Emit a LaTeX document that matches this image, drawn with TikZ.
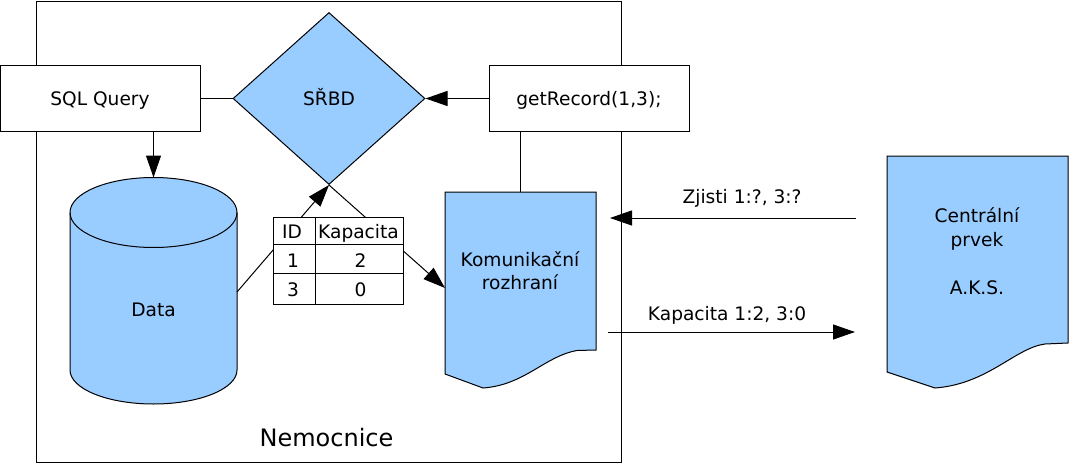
\documentclass[tikz,border=0pt]{standalone}
\usepackage{fontspec}
\setmainfont{DejaVu Sans}
\usetikzlibrary{shapes.geometric,arrows.meta}
\definecolor{lblue}{HTML}{99CCFF}
\begin{document}
\begin{tikzpicture}[x=1pt,y=-1pt,
  every node/.style={font=\fontsize{18.6}{24}\selectfont},
  box/.style={draw, fill=white, line width=1pt, minimum width=200pt, minimum height=66pt, inner sep=0pt, text height=14pt, text depth=0pt},
  conn/.style={line width=1pt},
  tip/.style={-{Triangle[length=22pt,width=15pt]}},
  txt/.style={anchor=base, inner sep=0pt},
  outline/.style={draw, line width=1pt, fill=lblue}]
\useasboundingbox (0,0) rectangle (1069,463);
% frame
\node[draw, line width=1pt, minimum width=585.5pt, minimum height=461.5pt, inner sep=0pt, anchor=north west] (frame) at (35.5,0.5) {};
\node[txt, font=\fontsize{24}{28}\selectfont] (nem) at (326.5,446) {Nemocnice};
% cylinder
\path[outline] (70,212.5) -- (70,370) arc[start angle=180, end angle=360, x radius=83.5pt, y radius=34pt]
  -- (237,212.5) arc[start angle=0, end angle=180, x radius=83.5pt, y radius=35pt] -- cycle;
\draw[line width=1pt] (70,212.5) arc[start angle=180, end angle=360, x radius=83.5pt, y radius=35pt];
\coordinate (datatop) at (153.5,177.5);
\coordinate (dataright) at (237,292);
\node[txt] (data) at (153.5,316) {Data};
% diamond
\node[diamond, draw, fill=lblue, line width=1pt, minimum width=192pt, minimum height=172pt, inner sep=0pt, text height=14pt, text depth=0pt] (srbd) at (329,98.5) {SŘBD};
% Komunikacni rozhrani
\path[outline] (445,192) -- (596,192) -- (596,350) -- (577,350.5) .. controls (545,356) and (525,385) .. (483,388) -- (445,374) -- cycle;
\coordinate (komtop) at (520,192);
\coordinate (komleft) at (445,288);
\node[txt] (kom1) at (520,266) {Komunikační};
\node[txt] (kom2) at (520,289) {rozhraní};
% Centralni prvek
\path[outline] (887,156) -- (1068,156) -- (1068,343) -- (1045,344) .. controls (1015,348) and (988,384) .. (935,388) -- (887,372) -- cycle;
\node[txt] (cen1) at (977,222) {Centrální};
\node[txt] (cen2) at (977,246) {prvek};
\node[txt] (cen3) at (977,294) {A.K.S.};
\coordinate (cenin) at (856,218);
\coordinate (cenout) at (855,332);
\coordinate (kin) at (610,218);
\coordinate (kout) at (608,332);
% boxes
\node[box] (sql) at (100,98.5) {SQL Query};
\node[box] (get) at (589,98.5) {getRecord(1,3);};
% connectors
\draw[conn] (sql.east) -- (srbd.west);
\draw[conn,tip] (get.west) -- (srbd.east);
\draw[conn,tip] (datatop |- sql.south) -- (datatop);
\draw[conn] (komtop |- get.south) -- (komtop);
\draw[conn,tip] (dataright) -- (srbd.south);
\draw[conn,tip] (srbd.south) -- (komleft);
\draw[conn,tip] (cenin) -- node[pos=0.463, anchor=base, yshift=15pt, inner sep=0pt] (lz) {Zjisti 1:?, 3:?} (kin);
\draw[conn,tip] (kout) -- node[pos=0.482, anchor=base, yshift=12pt, inner sep=0pt] (lk) {Kapacita 1:2, 3:0} (cenout);
% table
\node[draw, fill=white, line width=1pt, minimum width=130pt, minimum height=87pt, inner sep=0pt] (tbl) at (338,260.5) {};
\draw[line width=1pt] (315,217) -- (315,304);
\draw[line width=1pt] (273,244) -- (403,244);
\draw[line width=1pt] (273,273) -- (403,273);
\node[txt] (tid) at (292,238) {ID};
\node[txt] (tkap) at (358.5,238) {Kapacita};
\node[txt] (t1) at (293,267) {1};
\node[txt] (t2) at (360.5,267) {2};
\node[txt] (t3) at (293,296) {3};
\node[txt] (t0) at (360.5,296) {0};
\end{tikzpicture}
\end{document}
